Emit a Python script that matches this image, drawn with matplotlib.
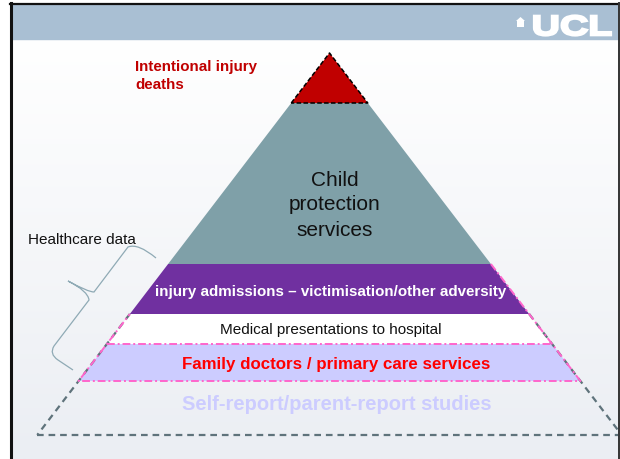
import numpy as np
import matplotlib.pyplot as plt
from matplotlib.patches import Polygon, Rectangle, PathPatch
from matplotlib.path import Path
from matplotlib.textpath import TextPath
from matplotlib.font_manager import FontProperties
from matplotlib.transforms import Affine2D
from matplotlib.colors import LinearSegmentedColormap

plt.rcParams["font.family"] = ["Liberation Sans", "DejaVu Sans"]

# pyramid band boundaries (slide pixel rows, apex first) and labels
levels = [53, 103, 264, 314, 344, 381, 435]
band_labels = [
    "Intentional injury\ndeaths",
    "Child\nprotection\nservices",
    "injury admissions \u2013 victimisation/other adversity",
    "Medical presentations to hospital",
    "Family doctors / primary care services",
    "Self-report/parent-report studies",
]
bracket_label = "Healthcare data"
logo_text = "UCL"

apex_x = 329.5
half_slope = 0.765

band_fill = ["#C00000", "#7FA0A8", "#7030A0", "#FFFFFF", "#CCCCFF", None]
text_color = ["#C00000", "#111111", "#FFFFFF", "#111111", "#FF0000", "#CCCCFF"]
text_size = [10.9, 15, 10.9, 11, 12.2, 14.5]
text_weight = ["bold", "normal", "bold", "normal", "bold", "bold"]
text_xy = [(135, 76), (335, 205), (331, 292), (331, 330), (336, 365), (337, 405)]


def edges(y):
    d = (y - levels[0]) * half_slope
    return apex_x - d, apex_x + d


fig = plt.figure(figsize=(6.2, 4.59), dpi=100)
ax = fig.add_axes([0, 0, 1, 1])
ax.set_xlim(0, 620)
ax.set_ylim(459, 0)
ax.axis("off")

# slide background, header band and frame
cmap = LinearSegmentedColormap.from_list("bg", ["#FFFFFF", "#EBEEF3"])
grad = np.linspace(0, 1, 200).reshape(-1, 1)
ax.imshow(grad, extent=(12, 618, 459, 39), cmap=cmap, aspect="auto", zorder=0)
ax.add_patch(Rectangle((12, 4), 606, 35, color="#A9BFD3", zorder=1))
ax.plot([11, 11], [3, 459], color="#111111", lw=2.2, zorder=10)
ax.plot([10, 620], [3.5, 3.5], color="#111111", lw=1.6, zorder=10)
ax.plot([619, 619], [3, 459], color="#333333", lw=1.4, zorder=10)

# UCL logo
tp = TextPath((0, 0), logo_text, prop=FontProperties(family="Liberation Sans", weight="bold"))
bb = tp.get_extents()
tr = Affine2D().translate(-bb.x0, -bb.y1).scale(77 / bb.width, -20 / bb.height).translate(534, 15.5)
ax.add_patch(PathPatch(tr.transform_path(tp), facecolor="white", edgecolor="white", lw=1.6, zorder=2))
ax.add_patch(Polygon([(516, 21), (520.5, 17), (525, 21)], color="white", lw=0, zorder=2))
ax.add_patch(Rectangle((517, 21), 7, 6, color="white", lw=0, zorder=2))

# filled bands
for i, fill in enumerate(band_fill):
    if fill is None:
        continue
    top, bot = levels[i], levels[i + 1]
    lt, rt = edges(top)
    lb, rb = edges(bot)
    ax.add_patch(Polygon([(lt, top), (rt, top), (rb, bot), (lb, bot)], closed=True,
                         facecolor=fill, edgecolor="none", zorder=3))

# black dashed outline of the apex triangle
l1, r1 = edges(levels[1])
ax.plot([l1, apex_x, r1, l1], [levels[1], levels[0], levels[1], levels[1]],
        color="black", lw=1.1, dashes=(3, 1.5), zorder=5)

# grey dashed outer triangle (self-report base)
grey = "#5F737B"
lw_, rw_ = edges(levels[3])
lb, rb = edges(levels[6])
ax.plot([lw_, lb], [levels[3], levels[6]], color=grey, lw=1.6, dashes=(3, 2.2), zorder=4)
ax.plot([rw_, min(rb, 618)], [levels[3], levels[3] + (min(rb, 618) - rw_) / half_slope],
        color=grey, lw=1.6, dashes=(3, 2.2), zorder=4)
ax.plot([lb, 618], [levels[6], levels[6]], color=grey, lw=1.6, dashes=(3, 2.2), zorder=4)

# pink dash-dot border on healthcare bands
pink = "#FF66CC"
lm, rm = edges(levels[4])
lf, rf = edges(levels[5])
r_top = edges(levels[2])[1]
ax.plot([r_top, rf, lf, lw_], [levels[2], levels[5], levels[5], levels[3]],
        color=pink, lw=1.4, dashes=(4, 1.5, 1, 1.5), zorder=6)
ax.plot([lm, rm], [levels[4], levels[4]], color=pink, lw=1.4, dashes=(4, 1.5, 1, 1.5), zorder=6)

# band labels
for i, label in enumerate(band_labels):
    x, y = text_xy[i]
    ax.text(x, y, label, color=text_color[i], fontsize=text_size[i], fontweight=text_weight[i],
            ha="left" if i == 0 else "center", va="center", linespacing=1.4 if i == 1 else 1.3,
            multialignment="left" if i == 0 else "center", zorder=7)

# curly bracket for healthcare data
verts = [(156, 258), (138, 243), (128, 247), (94, 292), (88, 292), (68, 281),
         (88, 291), (89, 300), (54, 346), (49, 354), (58, 360), (73, 370)]
codes = [Path.MOVETO, Path.CURVE3, Path.CURVE3, Path.LINETO, Path.CURVE3, Path.CURVE3,
         Path.CURVE3, Path.CURVE3, Path.LINETO, Path.CURVE3, Path.CURVE3, Path.LINETO]
ax.add_patch(PathPatch(Path(verts, codes), facecolor="none", edgecolor="#8FAAB5", lw=0.9, zorder=4))
ax.text(28, 240, bracket_label, color="#111111", fontsize=11, ha="left", va="center", zorder=7)

fig.savefig("out.png", dpi=100)
